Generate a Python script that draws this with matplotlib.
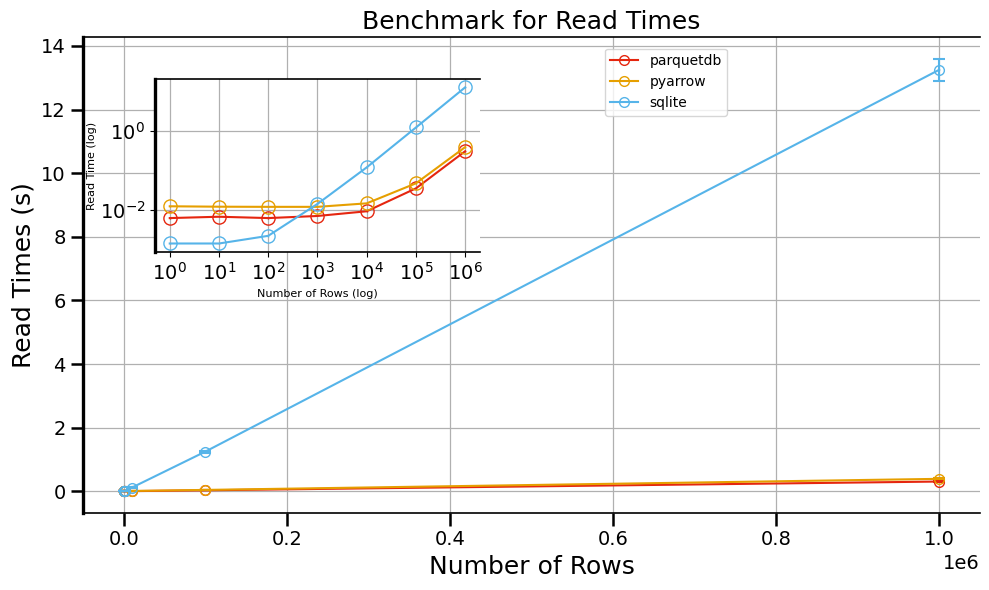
import numpy as np
import matplotlib
matplotlib.use("Agg")
import matplotlib.pyplot as plt
from matplotlib.ticker import LogLocator

# benchmark data
rows = [1, 10, 100, 1000, 10000, 100000, 1000000]
parquetdb = [0.0061, 0.0066, 0.0061, 0.0069, 0.0091, 0.035, 0.31]
pyarrow = [0.0122, 0.0119, 0.0118, 0.0118, 0.0145, 0.047, 0.395]
sqlite = [0.00137, 0.00137, 0.00215, 0.014, 0.12, 1.25, 13.25]
parquetdb_err = [0.0002, 0.0002, 0.0002, 0.0002, 0.0003, 0.001, 0.01]
pyarrow_err = [0.0003, 0.0003, 0.0003, 0.0003, 0.0004, 0.001, 0.012]
sqlite_err = [0.00005, 0.00005, 0.0001, 0.0005, 0.003, 0.03, 0.35]

SERIES = [("parquetdb", parquetdb, parquetdb_err, "#E5260F"),
          ("pyarrow", pyarrow, pyarrow_err, "#E69F00"),
          ("sqlite", sqlite, sqlite_err, "#56B4E9")]

fig = plt.figure(figsize=(9.89, 5.9), dpi=100)
ax = fig.add_axes([0.0839, 0.1305, 0.907, 0.8068])

for name, y, e, c in SERIES:
    ax.errorbar(rows, y, yerr=e, color=c, fmt="none", capsize=4,
                elinewidth=1.5, capthick=1.5)
    ax.plot(rows, y, label=name, color=c, marker="o", mfc="none", ms=7, lw=1.5)
ax.set_title("Benchmark for Read Times", fontsize=18)
ax.set_xlabel("Number of Rows", fontsize=18)
ax.set_ylabel("Read Times (s)", fontsize=18)
ax.tick_params(labelsize=14, length=9, width=1.8)
ax.xaxis.get_offset_text().set_fontsize(14)
ax.grid(True, color="#b0b0b0", lw=0.9)
ax.spines["right"].set_visible(False)
ax.spines["left"].set_linewidth(2.4)
ax.spines["bottom"].set_linewidth(1.2)
ax.spines["top"].set_linewidth(1.2)
ax.legend(loc="upper left", bbox_to_anchor=(0.574, 0.99), fontsize=10)

# log-log inset
ins = fig.add_axes([0.1567, 0.5729, 0.3286, 0.2932])
for name, y, e, c in SERIES:
    ins.errorbar(rows, y, yerr=e, color=c, fmt="none", elinewidth=1.0)
    ins.plot(rows, y, color=c, marker="o", mfc="none", ms=9.5, lw=1.5)
ins.set_xscale("log")
ins.set_yscale("log")
ins.xaxis.set_major_locator(LogLocator(base=10, numticks=10))
ins.set_xlabel("Number of Rows (log)", fontsize=8)
ins.set_ylabel("Read Time (log)", fontsize=8, labelpad=2)
ins.tick_params(labelsize=14)
ins.grid(True, color="#b0b0b0", lw=0.9)
ins.spines["right"].set_visible(False)
ins.spines["left"].set_linewidth(2.4)
ins.spines["bottom"].set_linewidth(1.2)
ins.spines["top"].set_linewidth(1.2)

fig.savefig("out.png", dpi=100)
